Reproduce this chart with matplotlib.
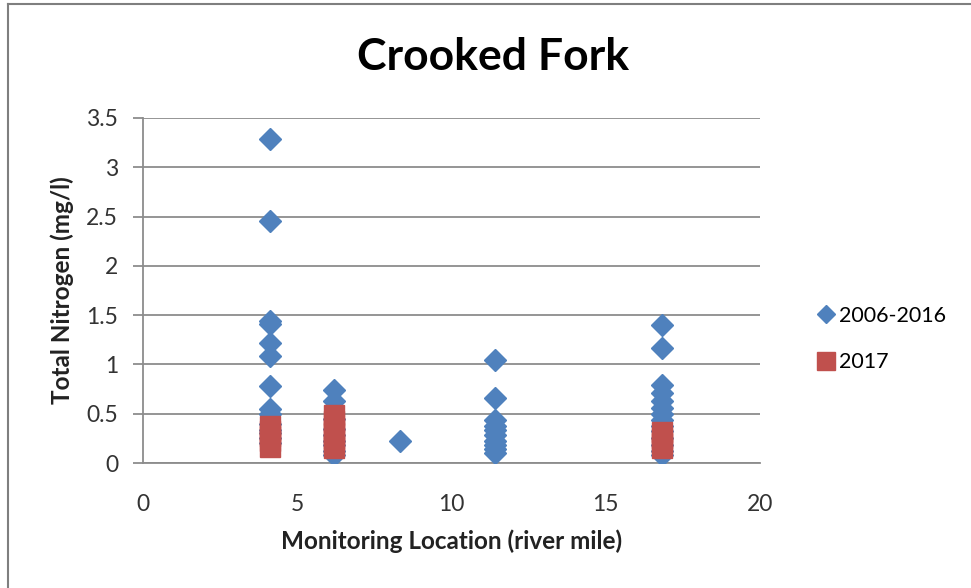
import numpy as np
import matplotlib
matplotlib.use('Agg')
import matplotlib.pyplot as plt
from matplotlib.lines import Line2D

plt.rcParams['font.family'] = ['Lato', 'DejaVu Sans']

# river mile of each monitoring site
site_a = 4.12
site_b = 6.18
site_c = 8.33
site_d = 11.41
site_e = 16.83

# 2006-2016 total nitrogen (mg/l) at each site
hist_a = [3.29, 2.46, 1.44, 1.41, 1.22, 1.09, 0.78, 0.55, 0.50, 0.40, 0.33, 0.30, 0.25, 0.20]
hist_b = [0.74, 0.63, 0.45, 0.35, 0.28, 0.22, 0.18, 0.12, 0.08]
hist_c = [0.22]
hist_d = [1.04, 0.66, 0.44, 0.38, 0.33, 0.28, 0.22, 0.18, 0.14, 0.10]
hist_e = [1.40, 1.17, 0.79, 0.71, 0.63, 0.56, 0.50, 0.44, 0.38, 0.32, 0.25, 0.18, 0.12, 0.08]

# 2017 total nitrogen (mg/l)
new_a = [0.38, 0.32, 0.27, 0.22, 0.16]
new_b = [0.49, 0.43, 0.36, 0.30, 0.24, 0.19, 0.15]
new_e = [0.31, 0.25, 0.20, 0.15]

hist_x = ([site_a] * len(hist_a) + [site_b] * len(hist_b) + [site_c] * len(hist_c)
          + [site_d] * len(hist_d) + [site_e] * len(hist_e))
hist_y = hist_a + hist_b + hist_c + hist_d + hist_e
new_x = [site_a] * len(new_a) + [site_b] * len(new_b) + [site_e] * len(new_e)
new_y = new_a + new_b + new_e

blue = '#4F81BD'
red = '#C0504D'
grey = '#8C8C8C'

fig = plt.figure(figsize=(9.71, 5.88), dpi=100)
ax = fig.add_axes([143/971, 1 - 463/588, 617/971, 345/588])

ax.plot(hist_x, hist_y, linestyle='none', marker='D', ms=11, color=blue, mec=blue, zorder=3)
ax.plot(new_x, new_y, linestyle='none', marker='s', ms=14, color=red, mec=red, zorder=4)

ax.set_xlim(0, 20)
ax.set_ylim(0, 3.5)
ax.set_xticks(np.arange(0, 21, 5))
ax.set_yticks(np.arange(0, 3.51, 0.5))
ax.set_yticklabels(['0', '0.5', '1', '1.5', '2', '2.5', '3', '3.5'])
ax.grid(axis='y', color=grey, linewidth=1.3)
ax.set_axisbelow(True)
for s in ['top', 'right']:
    ax.spines[s].set_visible(False)
ax.spines['left'].set_color(grey)
ax.spines['bottom'].set_color(grey)
ax.spines['left'].set_linewidth(1.3)
ax.spines['bottom'].set_linewidth(1.3)
ax.tick_params(axis='y', length=7, width=1.3, color=grey, labelsize=16.5, pad=11, labelcolor='#333333')
ax.tick_params(axis='x', length=0, labelsize=16.5, pad=22, labelcolor='#333333')

ax.set_xlabel('Monitoring Location (river mile)', fontsize=17.5, fontweight='bold', labelpad=11, color='#222222')
ax.set_ylabel('Total Nitrogen (mg/l)', fontsize=17.5, fontweight='bold', labelpad=9, color='#222222')

fig.text(493/971, 1 - 70/588, 'Crooked Fork', fontsize=32, fontweight='bold', ha='center', va='baseline')

handles = [Line2D([], [], linestyle='none', marker='D', ms=9, color=blue),
           Line2D([], [], linestyle='none', marker='s', ms=13, color=red)]
fig.legend(handles, ['2006-2016', '2017'], loc='center left', bbox_to_anchor=(800/971, 1 - 339/588),
           frameon=False, fontsize=15.5, handlelength=0.6, handletextpad=0.3, labelspacing=1.25)

# partial chart border at the top-left
fig.add_artist(Line2D([8/971, 8/971], [0, 1 - 4/588], color='#7F7F7F', linewidth=1.5))
fig.add_artist(Line2D([8/971, 1], [1 - 4/588, 1 - 4/588], color='#7F7F7F', linewidth=1.5))

fig.savefig('out.png', dpi=100)
